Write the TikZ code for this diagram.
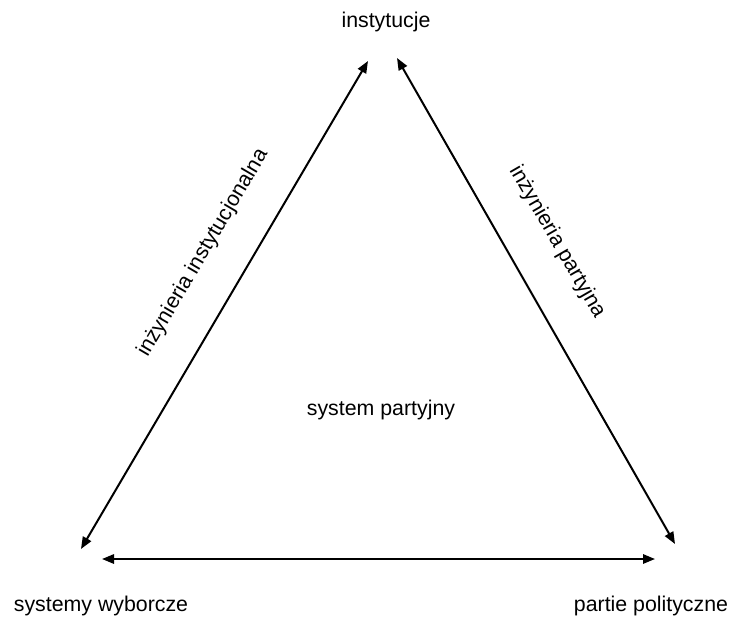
\documentclass[tikz,border=0pt]{standalone}
\usepackage{fontspec}
\setmainfont{Liberation Sans}
\usetikzlibrary{arrows.meta}

\begin{document}
\begin{tikzpicture}[x=0.75pt,y=0.75pt,yscale=-1,xscale=1]
\tikzset{label/.style={inner sep=0.75pt,font=\fontsize{16}{19}\selectfont},
  link/.style={line width=1.5pt,{Triangle[length=9pt,width=7pt]}-{Triangle[length=9pt,width=7pt]}}}
\useasboundingbox (0,0) rectangle (731,617);
% Text Node
\node [label] (inst) at (386,22) {instytucje};
% Text Node
\node [label] (wyb) at (101,606) {systemy wyborcze};
% Text Node
\node [label] (part) at (651,606) {partie polityczne};
% Text Node
\node [label] (sys) at (381,410) {system partyjny};
% Arrow ends
\coordinate (lt) at (368,61);
\coordinate (lb) at (81,549);
\coordinate (rt) at (397,58);
\coordinate (rb) at (675,544);
\coordinate (bl) at (102,559);
\coordinate (br) at (655,559);
%Straight Lines
\draw [link] (lb) -- (lt) ;
\draw [link] (rt) -- (rb) ;
\draw [link] (bl) -- (br) ;
% Text Node
\node [label,rotate=59.5] (instlab) at (203,253) {inżynieria instytucjonalna};
% Text Node
\node [label,rotate=-60] (partlab) at (557,242) {inżynieria partyjna};
\end{tikzpicture}
\end{document}
